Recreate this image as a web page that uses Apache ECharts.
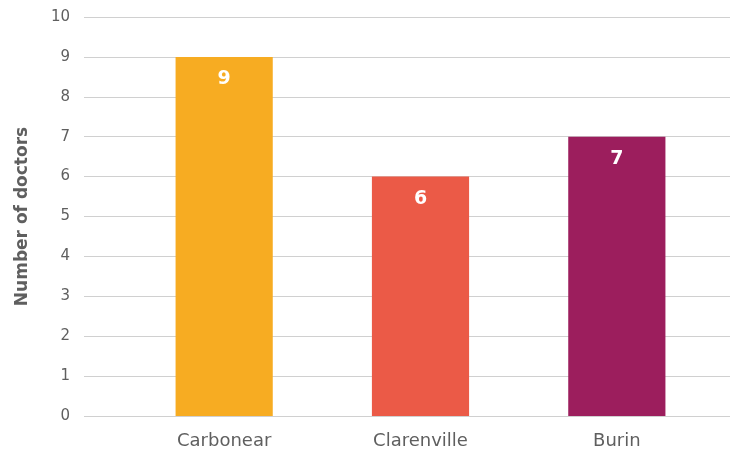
<!DOCTYPE html>
<html>
<head>
<meta charset="utf-8">
<script src="https://cdn.jsdelivr.net/npm/echarts@6/dist/echarts.min.js"></script>
<style>
  html, body { margin: 0; padding: 0; background: #fff; }
  #chart { width: 740px; height: 454px; }
</style>
</head>
<body>
<div id="chart"></div>
<script>
const categories = ['Carbonear', 'Clarenville', 'Burin'];
const doctors = [9, 6, 7];
const barColors = ['#F7AC22', '#EB5A47', '#9C1E5D'];
const yTicks = { min: 0, max: 10, interval: 1 };

const FONT = '"DejaVu Sans", "Open Sans", sans-serif';
const TEXT = '#5f5f5f';
const chart = echarts.init(document.getElementById('chart'), null, { renderer: 'canvas' });

chart.setOption({
  animation: false,
  grid: [
    // background grid carrying the value axis and horizontal gridlines
    { left: 84, right: 10, top: 17, bottom: 38 },
    // grid holding the bars
    { left: 126, right: 25, top: 17, bottom: 38 }
  ],
  xAxis: [
    { gridIndex: 0, type: 'value', show: false, min: 0, max: 1 },
    {
      gridIndex: 1,
      type: 'category',
      data: categories,
      axisLine: { show: false },
      axisTick: { show: false },
      axisLabel: { color: TEXT, fontSize: 18, fontFamily: FONT, margin: 16 }
    }
  ],
  yAxis: [
    {
      gridIndex: 0,
      type: 'value',
      min: yTicks.min, max: yTicks.max, interval: yTicks.interval,
      name: 'Number of doctors',
      nameLocation: 'middle',
      nameGap: 53,
      nameTextStyle: { color: TEXT, fontSize: 17, fontWeight: 'bold', fontFamily: FONT },
      axisLine: { show: false },
      axisTick: { show: false },
      axisLabel: { color: TEXT, fontSize: 15, fontFamily: FONT, margin: 14 },
      splitLine: { lineStyle: { color: '#d0d0d0', width: 1 } }
    },
    {
      gridIndex: 1,
      type: 'value',
      min: yTicks.min, max: yTicks.max, interval: yTicks.interval,
      show: false
    }
  ],
  series: [{
    type: 'bar',
    xAxisIndex: 1,
    yAxisIndex: 1,
    barWidth: '49.5%',
    data: doctors.map((v, i) => ({ value: v, itemStyle: { color: barColors[i] } })),
    label: {
      show: true,
      position: 'insideTop',
      distance: 13,
      color: '#ffffff',
      fontSize: 19,
      fontWeight: 'bold',
      fontFamily: FONT
    }
  }]
});
</script>
</body>
</html>
